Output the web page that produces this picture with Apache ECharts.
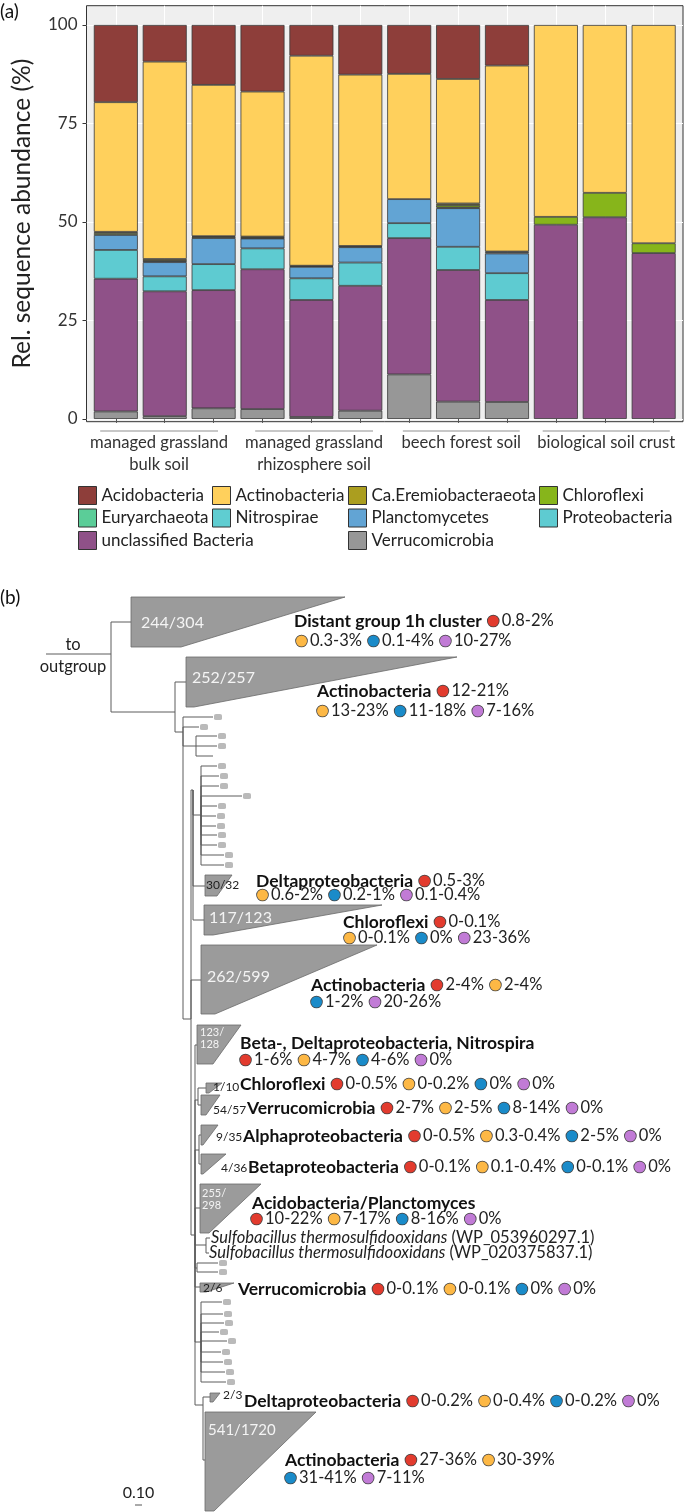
<!DOCTYPE html>
<html><head><meta charset="utf-8">
<script src="https://cdn.jsdelivr.net/npm/echarts@6/dist/echarts.min.js"></script>
<style>html,body{margin:0;padding:0;background:#fff}#c{width:685px;height:1512px}</style>
</head><body><div id="c"></div>
<script>
// ================= (a) stacked bars =================
const samples = ['1','2','3','4','5','6','7','8','9','10','11','12'];
const groups = ['managed grassland\nbulk soil','managed grassland\nrhizosphere soil','beech forest soil','biological soil crust'];
const groupSpan = [[0.68,3.09],[3.85,6.26],[6.87,9.26],[9.73,12.33]];
const sampleTicks = [1,2,3,4,5,6,7,8,9,10,11,12];
const yTicks = [0,25,50,75,100];
// stack order: bottom -> top
const phyla = ['Verrucomicrobia','unclassified Bacteria','Proteobacteria','Planctomycetes','Nitrospirae','Euryarchaeota','Chloroflexi','Ca.Eremiobacteraeota','Actinobacteria','Acidobacteria'];
const verrucomicrobia = [1.9,0.7,2.7,2.5,0.5,2.1,11.3,4.4,4.3,0,0,0];
const unclassifiedBacteria = [33.7,31.7,30.0,35.5,29.7,31.7,34.6,33.4,25.9,49.3,51.2,42.1];
const proteobacteria = [7.3,3.8,6.6,5.3,5.5,5.9,3.8,5.9,6.8,0,0,0];
const planctomycetes = [3.8,3.6,6.6,2.5,2.9,3.9,6.1,9.8,5.0,0,0,0];
const nitrospirae = [0,0.3,0,0.1,0.2,0.2,0,0.2,0.3,0,0,0];
const euryarchaeota = [0,0,0,0,0,0,0,0,0,0,0,0];
const chloroflexi = [0.5,0.1,0.3,0.3,0.1,0.1,0,0.6,0.2,2.0,6.2,2.5];
const eremiobacteraeota = [0.3,0.4,0.2,0.1,0,0,0,0.4,0,0,0,0];
const actinobacteria = [32.9,50.1,38.4,36.8,53.3,43.5,31.8,31.6,47.2,48.7,42.6,55.4];
const acidobacteria = [19.6,9.3,15.2,16.9,7.8,12.6,12.4,13.7,10.3,0,0,0];
const phylumValues = [verrucomicrobia,unclassifiedBacteria,proteobacteria,planctomycetes,nitrospirae,euryarchaeota,chloroflexi,eremiobacteraeota,actinobacteria,acidobacteria];
const phylumColors = ['#979797','#8F5188','#5ECBD1','#62A4D4','#5FCDD1','#5BCD98','#87B51B','#AB9E1F','#FFD05C','#8E3E3A'];
const legendCols = [
  ['Acidobacteria','Euryarchaeota','unclassified Bacteria'],
  ['Actinobacteria','Nitrospirae'],
  ['Ca.Eremiobacteraeota','Planctomycetes','Verrucomicrobia'],
  ['Chloroflexi','Proteobacteria']
];

// ================= (b) tree =================
// [id, parent, depth(x), row(y)]
const treeNodes = [
 ['R',null,111,654],['OG','R',46,654],['T1','R',131,622],['A','R',175,712],['T2','A',186,682],
 ['B','A',183,732],['b1','B',213,717],['b2','B',199,727],['D','B',196,746],
 ['d1','D',217,736],['d2','D',217,746],['d3','D',213,756],
 ['C','B',191,1019],['E','C',193,790],['F','E',201,815],
 ['f1','F',217,766],['f2','F',219,776],['f3','F',219,786],['f4','F',242,796],['f5','F',217,806],['f6','F',216,816],
 ['f7','F',216,826],['f8','F',217,835],['f9','F',217,845],['f10','F',224,855],['f11','F',224,865],
 ['T30','E',205,886],['T117','E',204,920],['T262','C',201,980],['C2','C',195,1235],
 ['T123','C2',197,1045],['J','C2',198,1100],['T110','J',206,1088],['T54','J',201,1105],
 ['K','C2',199,1150],['T9','K',201,1135],['T4','K',201,1164],['T255','C2',200,1208],
 ['S','C2',206,1245],['s1','S',210,1238],['s2','S',209,1253],
 ['M','C2',197,1268],['m1','M',218,1263],['m2','M',218,1272],['T26','C2',200,1287],
 ['P','C2',201,1342],['p1','P',222,1302],['p2','P',223,1314],['p3','P',224,1323],['p4','P',219,1332],['p5','P',227,1341],
 ['p6','P',221,1352],['p7','P',223,1362],['p8','P',225,1372],['p9','P',226,1382],
 ['Q','C2',203,1405],['T23','Q',210,1397],['T541','Q',205,1460]
];
const dotLeaves = ['b1','b2','d1','d2','f1','f2','f3','f4','f5','f6','f7','f8','f9','f10','f11','m1','m2','p1','p2','p3','p4','p5','p6','p7','p8','p9'];
// [node, label, top, bottom, topRight, bottomRight, labelX, labelY]
const clades = [
 ['T1','244/304',597,647,345,181,141,623],
 ['T2','252/257',657,707,457,194,192,678],
 ['T30','30/32',875,896,232,217,206,885],
 ['T117','117/123',905,935,382,213,209,918],
 ['T262','262/599',945,1014,377,215,207,977],
 ['T123','123/\n128',1025,1064,241,213,200,1038],
 ['T110','1/10',1083,1093,222,209,213,1087],
 ['T54','54/57',1095,1115,220,206,213,1110],
 ['T9','9/35',1125,1145,218,203,216,1137],
 ['T4','4/36',1154,1174,226,203,221,1168],
 ['T255','255/\n298',1184,1233,261,209,202,1199],
 ['T26','2/6',1283,1292,234,206,203,1288],
 ['T23','2/3',1393,1402,220,213,223,1395],
 ['T541','541/1720',1412,1511,316,214,208,1430]
];
// [x, y, bold name, [[circle, range], ...]]
const cladeNotes = [
 [294,621,'Distant group 1h cluster',[['r','0.8-2%']]],
 [296,641,'',[['o','0.3-3%'],['b','0.1-4%'],['p','10-27%']]],
 [317,691,'Actinobacteria',[['r','12-21%']]],
 [317,711,'',[['o','13-23%'],['b','11-18%'],['p','7-16%']]],
 [256,881,'Deltaproteobacteria',[['r','0.5-3%']]],
 [257,895,'',[['o','0.6-2%'],['b','0.2-1%'],['p','0.1-0.4%']]],
 [343,922,'Chloroflexi',[['r','0-0.1%']]],
 [344,938,'',[['o','0-0.1%'],['b','0%'],['p','23-36%']]],
 [311,985,'Actinobacteria',[['r','2-4%'],['o','2-4%']]],
 [311,1002,'',[['b','1-2%'],['p','20-26%']]],
 [240,1043,'Beta-, Deltaproteobacteria, Nitrospira',[]],
 [240,1060,'',[['r','1-6%'],['o','4-7%'],['b','4-6%'],['p','0%']]],
 [240,1084,'Chloroflexi',[['r','0-0.5%'],['o','0-0.2%'],['b','0%'],['p','0%']]],
 [247,1108,'Verrucomicrobia',[['r','2-7%'],['o','2-5%'],['b','8-14%'],['p','0%']]],
 [243,1136,'Alphaproteobacteria',[['r','0-0.5%'],['o','0.3-0.4%'],['b','2-5%'],['p','0%']]],
 [248,1167,'Betaproteobacteria',[['r','0-0.1%'],['o','0.1-0.4%'],['b','0-0.1%'],['p','0%']]],
 [252,1203,'Acidobacteria/Planctomyces',[]],
 [251,1219,'',[['r','10-22%'],['o','7-17%'],['b','8-16%'],['p','0%']]],
 [238,1289,'Verrucomicrobia',[['r','0-0.1%'],['o','0-0.1%'],['b','0%'],['p','0%']]],
 [244,1401,'Deltaproteobacteria',[['r','0-0.2%'],['o','0-0.4%'],['b','0-0.2%'],['p','0%']]],
 [285,1460,'Actinobacteria',[['r','27-36%'],['o','30-39%']]],
 [285,1478,'',[['b','31-41%'],['p','7-11%']]]
];
// [text, x, y, align]
const treeTexts = [
 ['to',73,645,'center'],['outgroup',73,667,'center'],
 ['{i|Sulfobacillus thermosulfidooxidans} (WP_053960297.1)',211,1238,'left'],
 ['{i|Sulfobacillus thermosulfidooxidans} (WP_020375837.1)',209,1253,'left']
];
const scaleBar = {len: 7, label: '0.10', x: 135, y: 1505};

// ================= build =================
const FONT = 'Lato';
const chart = echarts.init(document.getElementById('c'), null, {renderer:'canvas', width:685, height:1512});
const byId = {}; treeNodes.forEach(n => byId[n[0]] = n);
const circleColors = {r:'#E23B2E', o:'#FDB845', b:'#1A8BC9', p:'#C17BD6'};

function noteText(bold, items) {
  let s = bold ? '{bd|' + bold + '}' : '';
  items.forEach(it => {
    if (s) s += '{g| }';
    s += '{' + it[0] + '| }{h| }{t|' + it[1] + '}';
  });
  return s;
}
const noteRich = {
  bd:{fontSize:17.5, fontWeight:'bold', fontFamily:FONT, fill:'#111', verticalAlign:'middle', lineHeight:20},
  t:{fontSize:16.5, fontFamily:FONT, fill:'#222', verticalAlign:'middle', lineHeight:20},
  g:{width:6, fontSize:16, lineHeight:20}, h:{width:3, fontSize:16, lineHeight:20}
};
Object.keys(circleColors).forEach(k => {
  noteRich[k] = {width:11, height:11, borderRadius:5.5, backgroundColor:circleColors[k], borderColor:'#444', borderWidth:0.8, verticalAlign:'middle', lineHeight:20, fontSize:16};
});

const PANEL = {left:86.5, top:5.7, width:596.5, height:416};
const XMIN = 0.4, XMAX = 12.6;
const band = PANEL.width / (XMAX - XMIN);

const barSeries = phyla.map((name,k) => ({
  name, type:'bar', stack:'abund', xAxisIndex:1, yAxisIndex:1, barWidth:44,
  itemStyle:{color:phylumColors[k], borderColor:'#383838', borderWidth:0.8},
  emphasis:{disabled:true},
  data: phylumValues[k].map(v => v > 0 ? v : '-')
}));

const edges = treeNodes.filter(n => n[1]).map(n => { const p = byId[n[1]]; return [p[2], p[3], n[2], n[3]]; });

const option = {
  animation:false,
  textStyle:{fontFamily:FONT},
  grid:[
    // panel (background, border, gridlines, y axis)
    {left:PANEL.left, top:PANEL.top, width:PANEL.width, height:PANEL.height, show:true, backgroundColor:'#EFEFEF', borderColor:'#333', borderWidth:1, containLabel:false, outerBoundsMode:'none'},
    // bars
    {left:PANEL.left + (1 - XMIN - 0.5) * band, top:PANEL.top, width:12 * band, height:PANEL.height, show:false, containLabel:false, outerBoundsMode:'none'},
    // tree
    {left:0, top:580, width:685, height:932, show:false, containLabel:false, outerBoundsMode:'none'}
  ],
  xAxis:[
    {type:'value', gridIndex:0, min:XMIN, max:XMAX, axisLine:{show:false},
     axisTick:{show:true, length:4, customValues:sampleTicks, lineStyle:{color:'#555'}},
     axisLabel:{show:false}, splitLine:{show:true, lineStyle:{color:'#fff', width:1}}},
    {type:'category', gridIndex:1, data:samples, show:false},
    {type:'value', gridIndex:2, min:0, max:685, show:false}
  ],
  yAxis:[
    {type:'value', gridIndex:0, min:-0.7, max:104.9, axisLine:{show:false},
     axisTick:{show:true, length:4, customValues:yTicks, lineStyle:{color:'#333'}},
     axisLabel:{customValues:yTicks, fontSize:17, color:'#333', margin:9, fontFamily:FONT},
     splitLine:{show:true, lineStyle:{color:'#fff', width:1.2}},
     name:'Rel. sequence abundance (%)', nameLocation:'middle', nameGap:52,
     nameTextStyle:{fontSize:24.5, color:'#222', fontFamily:FONT}},
    {type:'value', gridIndex:1, min:-0.7, max:104.9, show:false},
    {type:'value', gridIndex:2, min:580, max:1512, inverse:true, show:false}
  ],
  legend: legendCols.map((names,i) => ({
    data:names, left:[78,212,348,539][i], top:486, orient:'vertical', padding:0,
    itemWidth:18, itemHeight:18, itemGap:3.5, icon:'rect', selectedMode:false,
    itemStyle:{borderColor:'#333', borderWidth:1},
    textStyle:{fontSize:17, color:'#222', fontFamily:FONT}
  })),
  graphic:[
    {type:'text', left:0, top:2, style:{text:'(a)', fontSize:19, fontFamily:FONT, fill:'#111'}},
    {type:'text', left:0, top:588, style:{text:'(b)', fontSize:19, fontFamily:FONT, fill:'#111'}}
  ],
  series:[
    ...barSeries,
    {type:'custom', xAxisIndex:0, yAxisIndex:0, clip:false, silent:true, z:5,
     data: groupSpan.map((s,i) => [s[0], s[1], i]),
     renderItem(params, api){
       const a = api.coord([api.value(0), 0]), b = api.coord([api.value(1), 0]);
       const y = a[1] + 12;
       return {type:'group', children:[
         {type:'line', shape:{x1:a[0], y1:y, x2:b[0], y2:y}, style:{stroke:'#b5b5b5', lineWidth:1.5}},
         {type:'text', x:(a[0]+b[0])/2, y:y+1, style:{text:groups[api.value(2)], fill:'#333', fontSize:16.6, fontFamily:FONT, align:'center', verticalAlign:'top', lineHeight:22}}
       ]};
     }},
    // tree branches
    {type:'custom', xAxisIndex:2, yAxisIndex:2, clip:false, silent:true, z:2, data:edges,
     renderItem(params, api){
       const p1 = api.coord([api.value(0), api.value(1)]);
       const p2 = api.coord([api.value(0), api.value(3)]);
       const p3 = api.coord([api.value(2), api.value(3)]);
       return {type:'polyline', shape:{points:[p1,p2,p3]}, style:{stroke:'#5c5c5c', lineWidth:1, fill:null}};
     }},
    // collapsed clades
    {type:'custom', xAxisIndex:2, yAxisIndex:2, clip:false, silent:true, z:3,
     data: clades.map((c,i) => [byId[c[0]][2], c[2], c[3], c[4], c[5], c[6], c[7], i]),
     renderItem(params, api){
       const v = k => api.value(k);
       const c = clades[v(7)];
       const pts = [api.coord([v(0),v(1)]), api.coord([v(3),v(1)]), api.coord([v(4),v(2)]), api.coord([v(0),v(2)])];
       const lab = api.coord([v(5), v(6)]);
       const multi = c[1].indexOf('\n') >= 0;
       const big = (v(2) - v(1)) >= 30;
       const fs = multi ? 11 : (big ? (c[1].length > 7 ? 15 : 16) : 12);
       return {type:'group', children:[
         {type:'polygon', shape:{points:pts}, style:{fill:'#9b9b9b', stroke:'#6a6a6a', lineWidth:0.8}},
         {type:'text', x:lab[0], y:lab[1], z2:10, style:{text:c[1], fill:(big||multi)?'#f4f4f4':'#222', fontSize:fs, fontFamily:FONT, align:'left', verticalAlign:'middle', lineHeight:multi?12:fs+2}}
       ]};
     }},
    // leaf markers
    {type:'scatter', xAxisIndex:2, yAxisIndex:2, silent:true, z:3, symbol:'roundRect', symbolSize:[8,6],
     itemStyle:{color:'#a9a9a9'},
     data: dotLeaves.map(id => [byId[id][2] + 5, byId[id][3]])},
    // clade annotations
    {type:'custom', xAxisIndex:2, yAxisIndex:2, clip:false, silent:true, z:6,
     data: cladeNotes.map((a,i) => [a[0], a[1], i]),
     renderItem(params, api){
       const a = cladeNotes[api.value(2)];
       const p = api.coord([api.value(0), api.value(1)]);
       return {type:'text', x:p[0], y:p[1], style:{text:noteText(a[2], a[3]), rich:noteRich, align:'left', verticalAlign:'middle', fontSize:16, fontFamily:FONT}};
     }},
    // leaf / root texts
    {type:'custom', xAxisIndex:2, yAxisIndex:2, clip:false, silent:true, z:6,
     data: treeTexts.map((t,i) => [t[1], t[2], i]),
     renderItem(params, api){
       const t = treeTexts[api.value(2)];
       const p = api.coord([api.value(0), api.value(1)]);
       return {type:'text', x:p[0], y:p[1], style:{text:t[0], align:t[3], verticalAlign:'middle', fontSize:16.5, fontFamily:FONT, fill:'#222',
         rich:{i:{fontStyle:'italic', fontSize:16.5, fontFamily:FONT, fill:'#222'}}}};
     }},
    // scale bar
    {type:'custom', xAxisIndex:2, yAxisIndex:2, clip:false, silent:true, z:6,
     data:[[scaleBar.x, scaleBar.y, scaleBar.x + scaleBar.len]],
     renderItem(params, api){
       const a = api.coord([api.value(0), api.value(1)]), b = api.coord([api.value(2), api.value(1)]);
       return {type:'group', children:[
         {type:'line', shape:{x1:a[0], y1:a[1], x2:b[0], y2:b[1]}, style:{stroke:'#555', lineWidth:1}},
         {type:'text', x:(a[0]+b[0])/2, y:a[1]-12, style:{text:scaleBar.label, align:'center', verticalAlign:'middle', fontSize:16, fontFamily:FONT, fill:'#222'}}
       ]};
     }}
  ]
};
chart.setOption(option);
</script></body></html>
